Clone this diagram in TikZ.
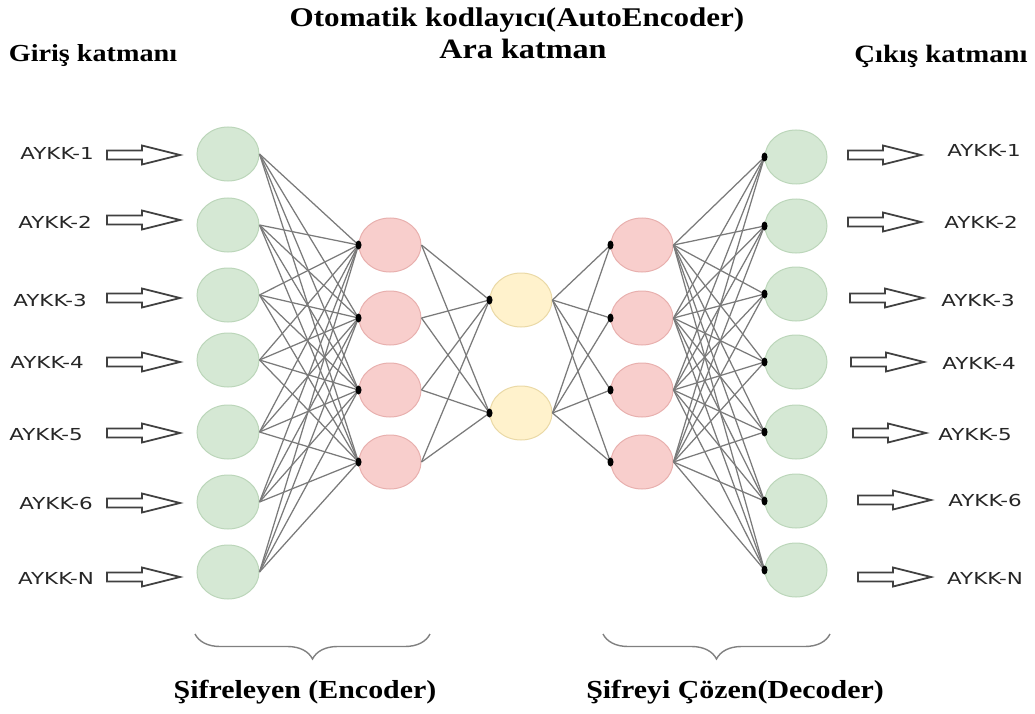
\documentclass[tikz,border=0pt]{standalone}
\usepackage{fontspec}
\setmainfont{Liberation Serif}
\newfontfamily\headfont[FakeStretch=1.15]{Liberation Serif}
\newfontfamily\lblfont[FakeStretch=1.3]{DejaVu Sans}
\usetikzlibrary{shapes.geometric,decorations.pathreplacing}

\definecolor{ingreen}{HTML}{D5E8D4}
\definecolor{ingreenline}{HTML}{BCD6BA}
\definecolor{hidpink}{HTML}{F8CECC}
\definecolor{hidpinkline}{HTML}{E8B0AE}
\definecolor{codeyellow}{HTML}{FFF2CC}
\definecolor{codeyellowline}{HTML}{EAD9A6}
\definecolor{wire}{HTML}{7A7A7A}

\tikzset{
  neuron/.style={ellipse, minimum width=62pt, minimum height=54pt, inner sep=0pt, line width=1pt},
  greenunit/.style={neuron, fill=ingreen, draw=ingreenline},
  pinkunit/.style={neuron, fill=hidpink, draw=hidpinkline},
  yellowunit/.style={neuron, fill=codeyellow, draw=codeyellowline},
  wirestyle/.style={draw=wire, line width=1.25pt},
  dotstyle/.style={fill=black},
  headtext/.style={font=\headfont\bfseries\fontsize{26}{30}\selectfont, inner sep=0pt},
  aykk/.style={font=\lblfont\fontsize{16.5}{18}\selectfont, inner sep=0pt, text=black!85},
  braceline/.style={draw=black!50, line width=1.4pt, decorate},
  pics/blockarrow/.style={code={
    \draw[draw=black!75, line width=1.8pt, fill=white, line join=miter]
      (0,-4.5) -- (35,-4.5) -- (35,-9.5) -- (73,0) -- (35,9.5) -- (35,4.5) -- (0,4.5) -- cycle;
  }}
}

\begin{document}
\begin{tikzpicture}[x=1pt,y=-1pt]
\useasboundingbox (0,0) rectangle (1035,714);

% titles
\node[headtext, font=\headfont\bfseries\fontsize{27}{30}\selectfont] (title) at (517,20) {Otomatik kodlayıcı(AutoEncoder)};
\node[headtext, font=\headfont\bfseries\fontsize{28}{30}\selectfont] (mid) at (523,49) {Ara katman};
\node[headtext, font=\headfont\bfseries\fontsize{24.5}{30}\selectfont] (inhead) at (93,56) {Giriş katmanı};
\node[headtext, font=\headfont\bfseries\fontsize{25}{30}\selectfont] (outhead) at (941,56) {Çıkış katmanı};

% layers
\foreach \i/\y in {1/154,2/225,3/295,4/360,5/432,6/502,7/572}
  \node[greenunit] (in\i) at (228,\y) {};
\foreach \i/\y in {1/245,2/318,3/390,4/462}
  \node[pinkunit] (e\i) at (390,\y) {};
\foreach \i/\y in {1/300,2/413}
  \node[yellowunit] (z\i) at (521,\y) {};
\foreach \i/\y in {1/245,2/318,3/390,4/462}
  \node[pinkunit] (d\i) at (642,\y) {};
\foreach \i/\y in {1/157,2/226,3/294,4/362,5/432,6/501,7/570}
  \node[greenunit] (out\i) at (796,\y) {};

% fully connected wiring
\foreach \i in {1,...,7}
  \foreach \j in {1,...,4}
    \draw[wirestyle] (in\i.east) -- (e\j.west);
\foreach \i in {1,...,4}
  \foreach \j in {1,2}
    \draw[wirestyle] (e\i.east) -- (z\j.west);
\foreach \i in {1,2}
  \foreach \j in {1,...,4}
    \draw[wirestyle] (z\i.east) -- (d\j.west);
\foreach \i in {1,...,4}
  \foreach \j in {1,...,7}
    \draw[wirestyle] (d\i.east) -- (out\j.west);

% junction dots
\foreach \j in {1,...,4} {
  \fill[dotstyle] (e\j.west) ellipse (3pt and 4.5pt);
  \fill[dotstyle] (d\j.west) ellipse (3pt and 4.5pt);
}
\foreach \j in {1,2}
  \fill[dotstyle] (z\j.west) ellipse (3pt and 4.5pt);
\foreach \j in {1,...,7}
  \fill[dotstyle] (out\j.west) ellipse (3pt and 4.5pt);

% input labels and arrows
\foreach \i/\x/\y/\t in {1/57/153/AYKK-1,2/55/222/AYKK-2,3/50/300/AYKK-3,4/47/362/AYKK-4,5/46/435/AYKK-5,6/56/503/AYKK-6,7/56/578/AYKK-N}
  \node[aykk] (inlbl\i) at (\x,\y) {\t};
\foreach \y in {155,220,298,362,433,503,577}
  \pic at (107,\y) {blockarrow};

% output labels and arrows
\foreach \i/\x/\y/\t in {1/984/150/AYKK-1,2/981/222/AYKK-2,3/978/300/AYKK-3,4/979/363/AYKK-4,5/975/435/AYKK-5,6/985/500/AYKK-6,7/985/578/AYKK-N}
  \node[aykk] (outlbl\i) at (\x,\y) {\t};
\foreach \x/\y in {848/155,848/222,850/298,851/362,853/433,858/500,858/577}
  \pic at (\x,\y) {blockarrow};

% braces and section captions
\draw[braceline, decoration={brace, amplitude=25pt, mirror}] (195,634) -- (430,634);
\draw[braceline, decoration={brace, amplitude=25pt, mirror}] (603,634) -- (830,634);
\node[headtext] (enc) at (305,692) {Şifreleyen (Encoder)};
\node[headtext] (dec) at (735,692) {Şifreyi Çözen(Decoder)};
\end{tikzpicture}
\end{document}
